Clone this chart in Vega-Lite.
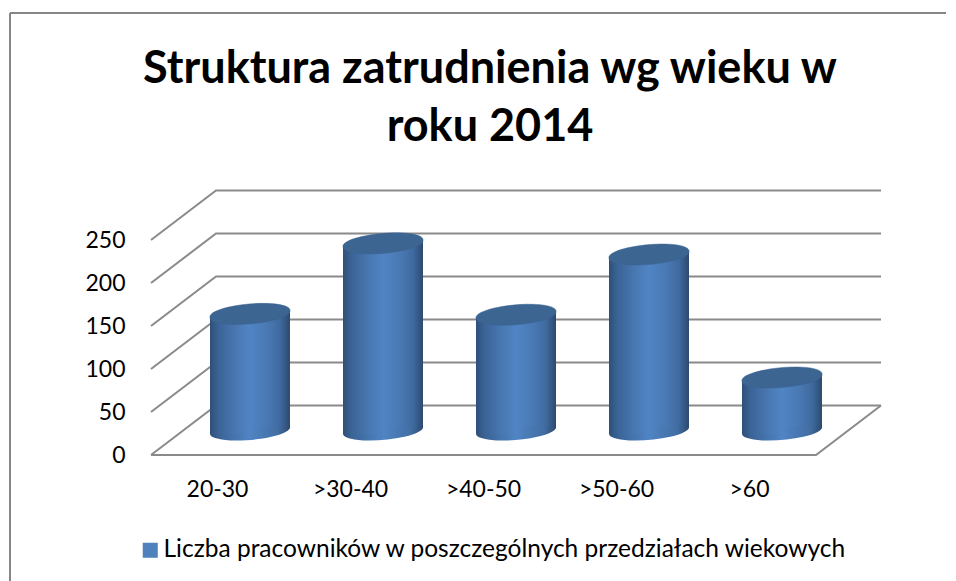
{
"$schema":"https://vega.github.io/schema/vega-lite/v6.json",
"width":956,"height":581,"padding":0,"autosize":{"type":"none"},
"background":"white",
"view":{"stroke":null},
"title":{"text":["Struktura zatrudnienia wg wieku w","roku 2014"],"font":"Lato","fontSize":45,"fontWeight":"bold","color":"black","anchor":"start","frame":"group","dx":490,"align":"center","lineHeight":58,"offset":-150,"orient":"top"},
"config":{"font":"Lato"},
"data":{"values":[
{"grupa":"20-30","liczba":135,"seria":"Liczba pracowników w poszczególnych przedziałach wiekowych"},
{"grupa":">30-40","liczba":217,"seria":"Liczba pracowników w poszczególnych przedziałach wiekowych"},
{"grupa":">40-50","liczba":134,"seria":"Liczba pracowników w poszczególnych przedziałach wiekowych"},
{"grupa":">50-60","liczba":204,"seria":"Liczba pracowników w poszczególnych przedziałach wiekowych"},
{"grupa":">60","liczba":61,"seria":"Liczba pracowników w poszczególnych przedziałach wiekowych"}
]},
"encoding":{
"x":{"field":"grupa","type":"nominal","sort":null,"title":null,
 "scale":{"type":"band","domain":["20-30",">30-40",">40-50",">50-60",">60"],"range":[151,816],"padding":0},
 "axis":{"domain":false,"ticks":false,"grid":false,"labelAngle":0,"labelFont":"Lato","labelFontSize":23,"labelColor":"black","labelPadding":0,"offset":-103}},
"y":{"field":"liczba","type":"quantitative","title":null,
 "scale":{"domain":[0,250],"range":[455,240],"nice":false,"zero":true},
 "axis":{"values":[0,50,100,150,200,250],"domain":false,"ticks":false,"grid":false,"labelFont":"Lato","labelFontSize":23,"labelColor":"black","labelPadding":0,"offset":-125}}
},
"layer":[
{"data":{"values":[{"v":0},{"v":50},{"v":100},{"v":150},{"v":200},{"v":250}]},
 "mark":{"type":"point","shape":"M0,0L65,-49.5L730,-49.5","size":4,"filled":false,"fill":null,"stroke":"#8a8a8a","strokeWidth":2,"opacity":1,"xOffset":-66.5},
 "encoding":{"x":{"datum":"20-30"},"y":{"field":"v","type":"quantitative"}}},
{"data":{"values":[{"v":0}]},
 "mark":{"type":"point","shape":"M0,0L665,0L730,-49.5","size":4,"filled":false,"fill":null,"stroke":"#8a8a8a","strokeWidth":2,"opacity":1,"xOffset":-66.5},
 "encoding":{"x":{"datum":"20-30"},"y":{"field":"v","type":"quantitative"}}},
{"data":{"values":[{"v":0}]},
 "mark":{"type":"point","shape":"M10,-442L946,-442M10,-442L10,126","size":4,"filled":false,"fill":null,"stroke":"#868686","strokeWidth":2,"opacity":1,"xOffset":-217.5},
 "encoding":{"x":{"datum":"20-30"},"y":{"field":"v","type":"quantitative"}}},
{"mark":{"type":"bar","width":76,"xOffset":32.5,"yOffset":-25},
 "encoding":{"color":{"field":"seria","type":"nominal","title":null,"scale":{"range":["#4f81bd"]},
   "legend":{"orient":"none","legendX":138,"legendY":538,"title":null,"symbolType":"square","symbolSize":225,"symbolStrokeWidth":0,"labelFont":"Lato","labelFontSize":24.5,"labelColor":"black","labelLimit":800,"labelOffset":1,"padding":0}}}},
{"mark":{"type":"point","shape":"M-40,3.5A40.2,9.5 -5 1 1 40,-3.5A40.2,9.5 -5 1 1 -40,3.5Z","size":4,"filled":true,"opacity":1,"xOffset":32.5,"yOffset":-25,
  "fill":{"gradient":"linear","x1":0,"x2":1,"y1":0,"y2":0,"stops":[{"offset":0,"color":"#2f5078"},{"offset":0.12,"color":"#3b6497"},{"offset":0.5,"color":"#5084c4"},{"offset":0.85,"color":"#426ea3"},{"offset":1,"color":"#2c4a6f"}]}},
 "encoding":{"y":{"datum":0}}},
{"mark":{"type":"bar","width":40,"xOffset":12.5,"yOffset":-21.5,
  "fill":{"gradient":"linear","x1":0,"x2":1,"y1":0,"y2":0,"stops":[{"offset":0,"color":"#2f5078"},{"offset":0.22,"color":"#3b6497"},{"offset":0.7,"color":"#4a7ab5"},{"offset":1,"color":"#5084c4"}]}}},
{"mark":{"type":"bar","width":40,"xOffset":52.5,"yOffset":-28.5,
  "fill":{"gradient":"linear","x1":0,"x2":1,"y1":0,"y2":0,"stops":[{"offset":0,"color":"#5084c4"},{"offset":0.4,"color":"#4a7ab5"},{"offset":0.75,"color":"#3f6a9f"},{"offset":1,"color":"#2c4a6f"}]}}},
{"mark":{"type":"point","shape":"M-40,3.5A40.2,9.5 -5 1 1 40,-3.5A40.2,9.5 -5 1 1 -40,3.5Z","size":4,"filled":true,"opacity":1,"xOffset":32.5,"yOffset":-25,"fill":"#3c6592","stroke":"#3a6290","strokeWidth":0.5}}
]
}
